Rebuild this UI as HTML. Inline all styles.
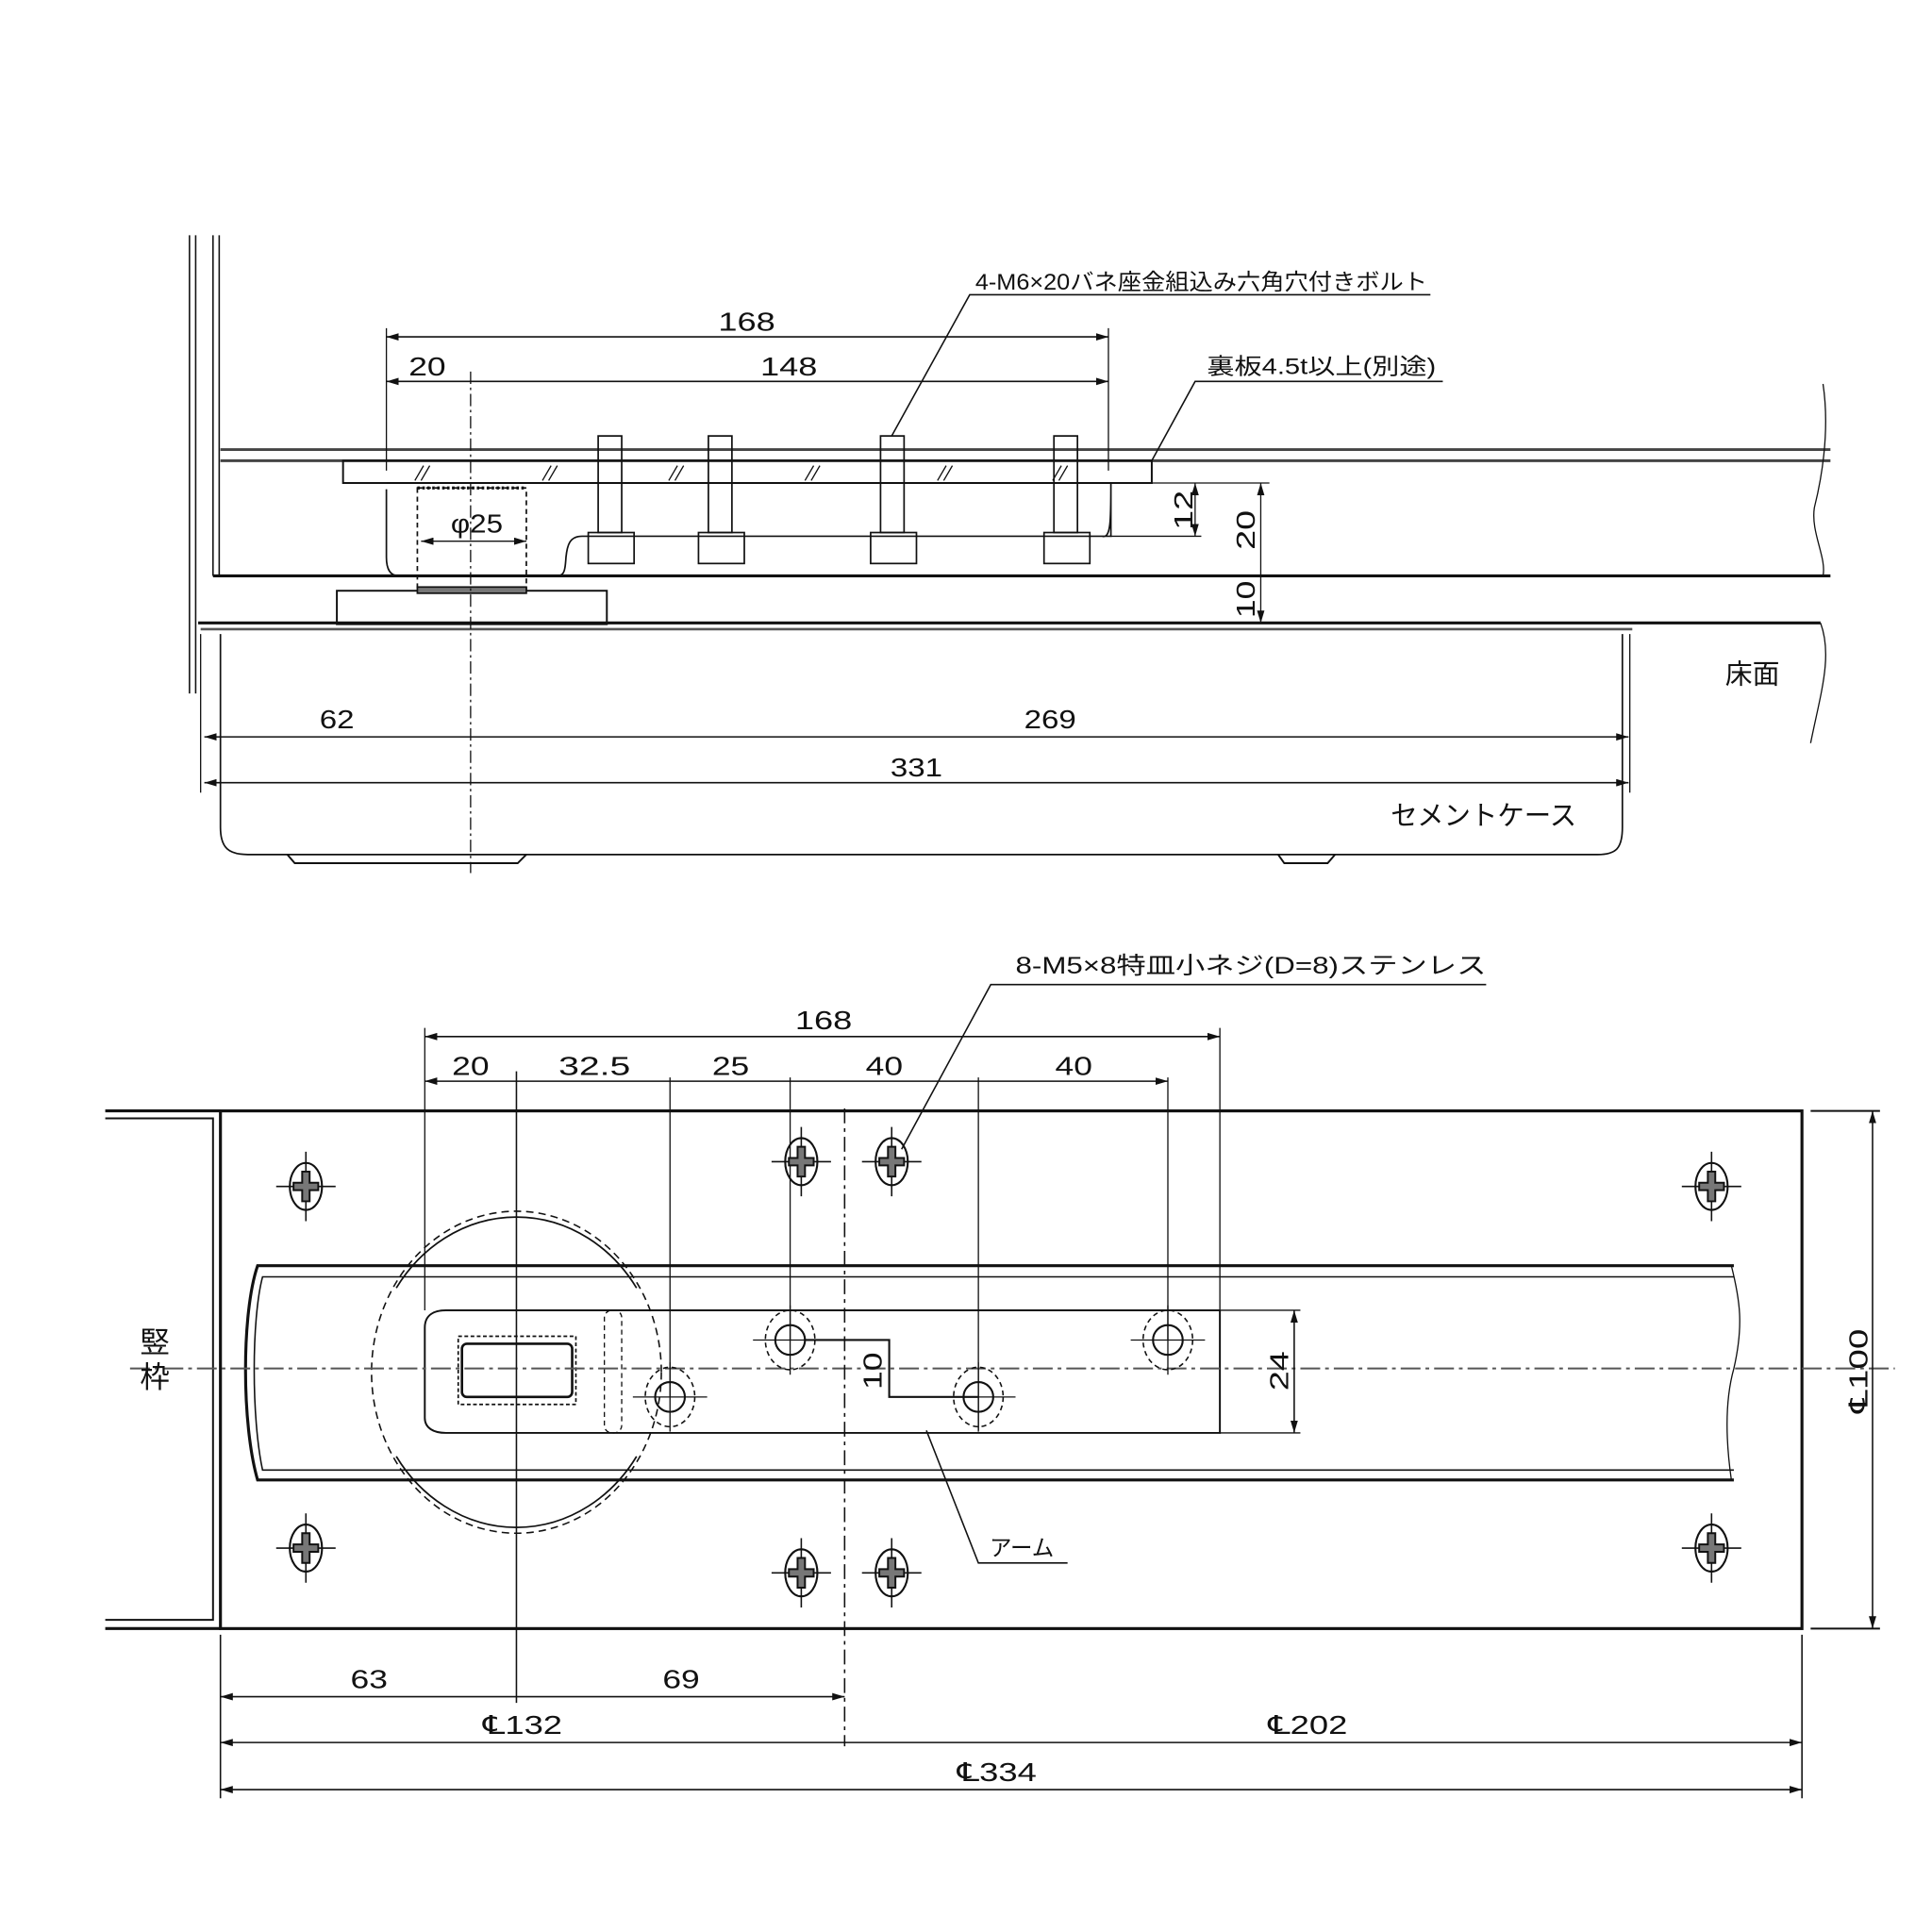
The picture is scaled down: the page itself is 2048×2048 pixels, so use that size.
<!DOCTYPE html>
<html><head><meta charset="utf-8"><style>
html,body{margin:0;padding:0;background:#fff;}
svg{display:block;}
text{font-family:"Liberation Sans","Noto Sans CJK JP",sans-serif;fill:#111;}
</style></head><body>
<svg width="2048" height="2048" viewBox="0 0 1560 1560" xmlns="http://www.w3.org/2000/svg">
<defs>
<marker id="a" viewBox="0 0 10 6" refX="10" refY="3" markerWidth="10" markerHeight="6" orient="auto-start-reverse" markerUnits="userSpaceOnUse"><path d="M0,0 L10,3 L0,6z" fill="#111"/></marker>
<g id="sc">
<ellipse cx="0" cy="0" rx="13" ry="19" fill="none" stroke="#111" stroke-width="1.6"/>
<path d="M-24,0H24M0,-28V28" stroke="#111" stroke-width="1.2"/>
<path d="M-3,-3V-12H3V-3H10V3H3V12H-3V3H-10V-3Z" fill="#777" stroke="#111" stroke-width="1.5"/>
</g>
<g id="ho">
<circle r="12" fill="none" stroke="#111" stroke-width="1.6"/>
<ellipse rx="20" ry="24" fill="none" stroke="#111" stroke-width="1.2" stroke-dasharray="4 3"/>
<path d="M-30,0H30M0,-28V28" stroke="#111" stroke-width="1"/>
</g>
</defs>
<g fill="none" stroke="#111" stroke-width="1.3">
<!-- TOP VIEW -->
<path d="M153,190V560M158,190V560M172,190V465M177,190V465" stroke-width="1.2"/>
<path d="M178,363H1478M178,372H1478" stroke-width="2.2" stroke="#444"/>
<path d="M172,465H1478" stroke-width="2.4"/>
<path d="M1472,310C1478,350 1470,390 1465,410 C1462,430 1475,450 1472,465" stroke-width="1"/>
<rect x="277" y="372" width="653" height="18" stroke-width="1.5"/>
<path d="M335,388L342,376M340,388L347,376M438,388L445,376M443,388L450,376M540,388L547,376M545,388L552,376M650,388L657,376M655,388L662,376M757,388L764,376M762,388L769,376M850,388L857,376M855,388L862,376" stroke-width="1"/>
<path d="M312,390H897C897,420 897,435 890,433 M897,390V433H470C460,433 458,440 457,450C456,465 455,465 445,465H322C314,465 312,458 312,450V395"/>
<rect x="337" y="394" width="88" height="82" stroke-dasharray="4 3" stroke-width="1.3"/>
<path d="M337,394H425" stroke-dasharray="2 2" stroke-width="2.5"/>
<path d="M340,437H425" marker-start="url(#a)" marker-end="url(#a)" stroke-width="1"/>
<g stroke-width="1.3">
<rect x="483" y="352" width="19" height="78"/><rect x="475" y="430" width="37" height="25"/>
<rect x="572" y="352" width="19" height="78"/><rect x="564" y="430" width="37" height="25"/>
<rect x="711" y="352" width="19" height="78"/><rect x="703" y="430" width="37" height="25"/>
<rect x="851" y="352" width="19" height="78"/><rect x="843" y="430" width="37" height="25"/>
</g>
<rect x="272" y="477" width="218" height="27" stroke-width="1.5"/>
<rect x="337" y="474" width="88" height="5" fill="#777"/>
<path d="M160,503H1325M1325,503H1470" stroke-width="2.4"/>
<path d="M1470,503C1480,530 1470,560 1462,600" stroke-width="1"/>
<path d="M162,508H1318" stroke-width="2" stroke="#555"/>
<path d="M178,512V668C178,685 185,690 200,690H1290C1305,690 1310,685 1310,668V512"/>
<path d="M162,512V640M1316,512V640" stroke-width="1"/>
<path d="M232,690L238,697H418L425,690M1032,690L1037,697H1072L1078,690" stroke-width="1.5"/>
<path d="M380,300V705" stroke-dasharray="10 3 2 3" stroke-width="1"/>
<!-- dims top -->
<path d="M312,265V380M895,265V380" stroke-width="1"/>
<path d="M312,272H895" marker-start="url(#a)" marker-end="url(#a)" stroke-width="1.2"/>
<path d="M312,308H380M380,308H895" marker-start="url(#a)" marker-end="url(#a)" stroke-width="1.2"/>
<path d="M897,390H1025M897,433H970" stroke-width="1"/>
<path d="M965,390V433" marker-start="url(#a)" marker-end="url(#a)" stroke-width="1"/>
<path d="M1018,390V465M1018,465V503" marker-start="url(#a)" marker-end="url(#a)" stroke-width="1"/>
<path d="M165,595H380M380,595H1315" marker-start="url(#a)" marker-end="url(#a)" stroke-width="1.2"/>
<path d="M165,632H1315" marker-start="url(#a)" marker-end="url(#a)" stroke-width="1.2"/>
<path d="M1155,238H783L720,352" stroke-width="1.2"/>
<path d="M1165,308H965L930,372" stroke-width="1.2"/>
<!-- BOTTOM VIEW -->
<path d="M85,897H178M85,1315H178" stroke-width="2.4"/>
<path d="M85,903H172V1308H85" stroke-width="1.5"/>
<rect x="178" y="897" width="1277" height="418" stroke-width="2.4"/>
<path d="M1400,1022H208C195,1060 195,1150 208,1195H1400" stroke-width="2.4"/>
<path d="M1400,1031H212C203,1065 203,1145 212,1187H1400" stroke-width="1.2"/>
<path d="M1398,1022C1405,1050 1408,1070 1400,1105C1393,1130 1393,1160 1398,1195" stroke-width="1"/>
<path d="M985,1058H360C350,1058 343,1062 343,1072V1145C343,1153 350,1157 360,1157H985V1058" stroke-width="1.5"/>
<rect x="488" y="1058" width="14" height="99" rx="6" stroke-dasharray="4 3" stroke-width="1"/>
<rect x="370" y="1079" width="95" height="55" stroke-dasharray="3 2"/>
<rect x="373" y="1085" width="89" height="43" rx="4" stroke-width="2"/>
<ellipse cx="417" cy="1108" rx="117" ry="130" stroke-dasharray="6 4" stroke-width="1.2"/>
<path d="M320,1040A117,130 0 0 1 514,1040M320,1176A117,130 0 0 0 514,1176" stroke-width="1.3"/>
<path d="M105,1105H1530" stroke-dasharray="16 4 3 4" stroke="#555" stroke-width="1.5"/>
<path d="M417,865V1375" stroke-width="1.2"/>
<path d="M682,895V1410" stroke-dasharray="12 4 3 4" stroke-width="1.2"/>
<path d="M343,830V1058M985,830V1058M541,870V1128M638,870V1082M790,870V1155M943,870V1082" stroke-width="1"/>
<path d="M343,837H985" marker-start="url(#a)" marker-end="url(#a)" stroke-width="1.2"/>
<path d="M343,873H417M417,873H541M541,873H638M638,873H790M790,873H943" marker-start="url(#a)" marker-end="url(#a)" stroke-width="1.1"/>
<path d="M650,1082H718V1128H790" stroke-width="1.6"/>
<path d="M985,1058H1050M985,1157H1050" stroke-width="1"/>
<path d="M1045,1058V1157" marker-start="url(#a)" marker-end="url(#a)" stroke-width="1.2"/>
<path d="M1462,897H1518M1462,1315H1518" stroke-width="1.5"/>
<path d="M1512,897V1315" marker-start="url(#a)" marker-end="url(#a)" stroke-width="1.2"/>
<path d="M178,1320V1452M1455,1320V1452" stroke-width="1.2"/>
<path d="M178,1370H417M417,1370H682" marker-start="url(#a)" marker-end="url(#a)" stroke-width="1.2"/>
<path d="M178,1407H682M682,1407H1455" marker-start="url(#a)" marker-end="url(#a)" stroke-width="1.2"/>
<path d="M178,1445H1455" marker-start="url(#a)" marker-end="url(#a)" stroke-width="1.2"/>
<path d="M1200,795H800L728,928" stroke-width="1.2"/>
<path d="M748,1155L790,1262H862" stroke-width="1.2"/>
</g>
<use href="#sc" x="247" y="958"/><use href="#sc" x="647" y="938"/><use href="#sc" x="720" y="938"/><use href="#sc" x="1382" y="958"/>
<use href="#sc" x="247" y="1250"/><use href="#sc" x="647" y="1270"/><use href="#sc" x="720" y="1270"/><use href="#sc" x="1382" y="1250"/>
<use href="#ho" x="541" y="1128"/><use href="#ho" x="638" y="1082"/><use href="#ho" x="790" y="1128"/><use href="#ho" x="943" y="1082"/>
<g font-size="21" text-anchor="middle">
<text x="970" y="234" font-size="18" textLength="365" lengthAdjust="spacingAndGlyphs">4-M6×20バネ座金組込み六角穴付きボルト</text>
<text x="603" y="267" textLength="46" lengthAdjust="spacingAndGlyphs">168</text>
<text x="345" y="303" textLength="30" lengthAdjust="spacingAndGlyphs">20</text>
<text x="637" y="303" textLength="46" lengthAdjust="spacingAndGlyphs">148</text>
<text x="1067" y="302" font-size="18" textLength="185" lengthAdjust="spacingAndGlyphs">裏板4.5t以上(別途)</text>
<text x="385" y="430" textLength="42" lengthAdjust="spacingAndGlyphs">φ25</text>
<text x="1415" y="552" font-size="22">床面</text>
<text x="272" y="588" textLength="28" lengthAdjust="spacingAndGlyphs">62</text>
<text x="848" y="588" textLength="42" lengthAdjust="spacingAndGlyphs">269</text>
<text x="740" y="627" textLength="42" lengthAdjust="spacingAndGlyphs">331</text>
<text x="1198" y="666" font-size="22" textLength="150" lengthAdjust="spacingAndGlyphs">セメントケース</text>
<text x="1010" y="786" font-size="19" textLength="380" lengthAdjust="spacingAndGlyphs">8-M5×8特皿小ネジ(D=8)ステンレス</text>
<text x="665" y="831" textLength="46" lengthAdjust="spacingAndGlyphs">168</text>
<text x="380" y="868" textLength="30" lengthAdjust="spacingAndGlyphs">20</text>
<text x="480" y="868" textLength="58" lengthAdjust="spacingAndGlyphs">32.5</text>
<text x="590" y="868" textLength="30" lengthAdjust="spacingAndGlyphs">25</text>
<text x="714" y="868" textLength="30" lengthAdjust="spacingAndGlyphs">40</text>
<text x="867" y="868" textLength="30" lengthAdjust="spacingAndGlyphs">40</text>
<text x="825" y="1256" font-size="18" textLength="52" lengthAdjust="spacingAndGlyphs">アーム</text>
<text x="298" y="1363" textLength="30" lengthAdjust="spacingAndGlyphs">63</text>
<text x="550" y="1363" textLength="30" lengthAdjust="spacingAndGlyphs">69</text>
<text x="422" y="1400" textLength="64" lengthAdjust="spacingAndGlyphs">℄132</text>
<text x="1056" y="1400" textLength="64" lengthAdjust="spacingAndGlyphs">℄202</text>
<text x="805" y="1438" textLength="64" lengthAdjust="spacingAndGlyphs">℄334</text>
<text x="125" y="1092" font-size="24">竪</text>
<text x="125" y="1120" font-size="24">枠</text>
<text transform="translate(963,412) rotate(-90)" textLength="32" lengthAdjust="spacingAndGlyphs">12</text>
<text transform="translate(1013,428) rotate(-90)" textLength="32" lengthAdjust="spacingAndGlyphs">20</text>
<text transform="translate(1013,484) rotate(-90)" textLength="30" lengthAdjust="spacingAndGlyphs">10</text>
<text transform="translate(712,1107) rotate(-90)" textLength="30" lengthAdjust="spacingAndGlyphs">10</text>
<text transform="translate(1040,1107) rotate(-90)" textLength="32" lengthAdjust="spacingAndGlyphs">24</text>
<text transform="translate(1508,1107) rotate(-90)" textLength="68" lengthAdjust="spacingAndGlyphs">℄100</text>
</g>
</svg>
</body></html>
